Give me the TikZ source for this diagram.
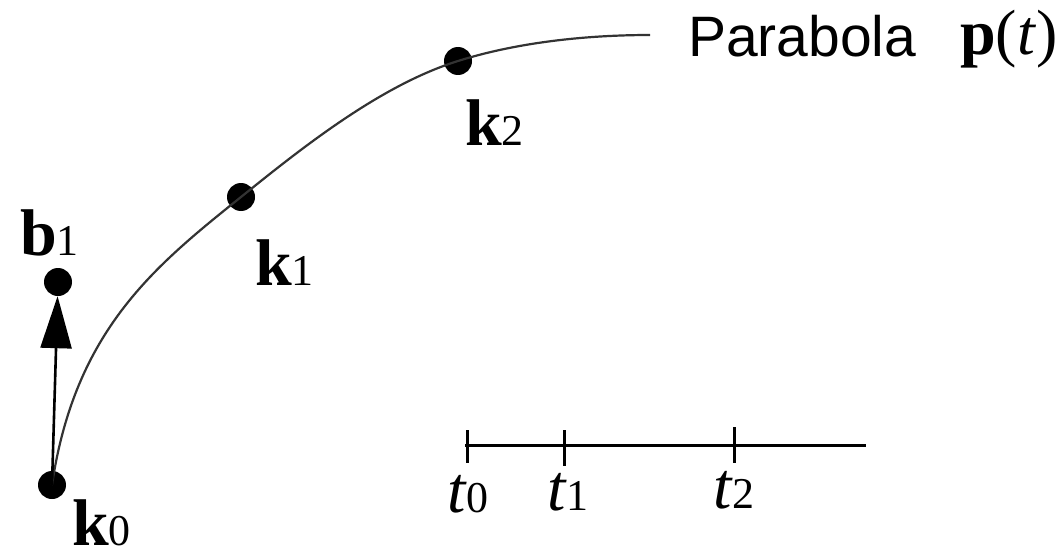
\documentclass[tikz,border=0pt]{standalone}
\usepackage{fontspec}
\setmainfont{Liberation Serif}
\newfontfamily\arialfont{Liberation Sans}
\usetikzlibrary{arrows.meta}
\tikzset{
  dot/.style={circle,fill=black,inner sep=0pt,minimum size=28pt},
  lbl/.style={anchor=base west,inner sep=0pt,font=\fontsize{66}{66}\selectfont},
  curveline/.style={line width=2.2pt,color=black!80},
  axisline/.style={line width=3pt},
  vecarrow/.style={line width=2.6pt,-{Triangle[width=31pt,length=52pt]}}
}
\newcommand{\subd}[1]{{\fontsize{44}{44}\selectfont #1}}
\begin{document}
\begin{tikzpicture}[x=1pt,y=-1pt]
\useasboundingbox (0,0) rectangle (1063,551);
% dots
\node[dot] (k0) at (52,485) {};
\node[dot] (k1) at (241,197) {};
\node[dot] (k2) at (458,61) {};
\node[dot] (b1) at (58,282) {};
\coordinate (cend) at (650,35);
% curve
\draw[curveline] (k0.center) .. controls (75,330) and (155,266) .. (k1.center)
  .. controls (303,147) and (381,85) .. (k2.center)
  .. controls (520,41.5) and (590,35) .. (cend);
% arrow
\draw[vecarrow] (k0.center) -- (b1);
% labels
\node[lbl,text depth=0pt] (lk0) at (72,545) {\textbf{k}\subd{0}};
\node[lbl] (lk1) at (255,285) {\textbf{k}\subd{1}};
\node[lbl] (lk2) at (465,145) {\textbf{k}\subd{2}};
\node[lbl] (lb1) at (20,255) {\textbf{b}\subd{1}};
\node[anchor=base west,inner sep=0pt,font=\arialfont\fontsize{57}{57}\selectfont] (par) at (688,57) {Parabola};
\node[anchor=base west,inner sep=0pt,font=\fontsize{64}{64}\selectfont] (pt) at (960,55) {\textbf{p}(\textit{t})};
% axis
\coordinate (a0) at (465,445);
\coordinate (a1) at (866,445);
\draw[axisline] (a0) -- (a1);
\coordinate (t0a) at (467,430); \coordinate (t0b) at (467,463);
\coordinate (t1a) at (564,430); \coordinate (t1b) at (564,466);
\coordinate (t2a) at (734,427); \coordinate (t2b) at (734,463);
\draw[axisline] (t0a) -- (t0b);
\draw[axisline] (t1a) -- (t1b);
\draw[axisline] (t2a) -- (t2b);
\node[lbl] (lt0) at (447,512) {\textit{t}\subd{0}};
\node[lbl] (lt1) at (547,510) {\textit{t}\subd{1}};
\node[lbl] (lt2) at (713,508) {\textit{t}\subd{2}};
\end{tikzpicture}
\end{document}
